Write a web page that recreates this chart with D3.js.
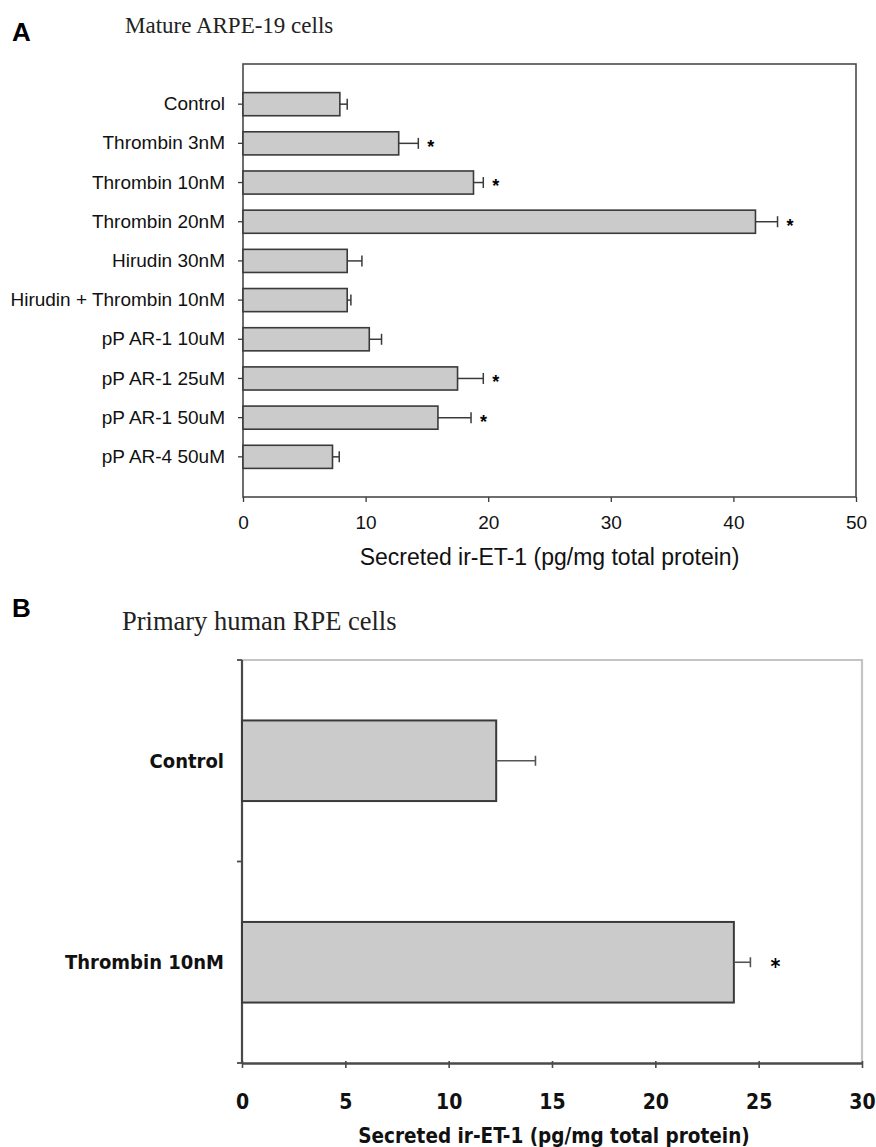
<!DOCTYPE html>
<html>
<head>
<meta charset="utf-8">
<script src="https://cdn.jsdelivr.net/npm/d3@7/dist/d3.min.js"></script>
<style>
  body { margin: 0; background: #fff; }
  svg { display: block; }
</style>
</head>
<body>
<div id="chart"></div>
<script>
// panel A - mature ARPE-19 cells
var catsA = ["Control", "Thrombin 3nM", "Thrombin 10nM", "Thrombin 20nM", "Hirudin 30nM",
  "Hirudin + Thrombin 10nM", "pP AR-1 10uM", "pP AR-1 25uM", "pP AR-1 50uM", "pP AR-4 50uM"];
var valsA = [7.9, 12.7, 18.8, 41.8, 8.5, 8.5, 10.3, 17.5, 15.9, 7.3];
var errA = [0.6, 1.6, 0.8, 1.8, 1.2, 0.3, 1.0, 2.1, 2.7, 0.55];
var sigA = [false, true, true, true, false, false, false, true, true, false];
var ticksA = [0, 10, 20, 30, 40, 50];

// panel B - primary human RPE cells
var catsB = ["Control", "Thrombin 10nM"];
var valsB = [12.3, 23.8];
var errB = [1.9, 0.8];
var sigB = [false, true];
var ticksB = [0, 5, 10, 15, 20, 25, 30];

var xTitle = "Secreted ir-ET-1 (pg/mg total protein)";

var width = 876, height = 1147;
var dark = "#3a3a3a";
var barFill = "#cbcbcb";

var svg = d3.select("#chart").append("svg")
    .attr("width", width)
    .attr("height", height);

svg.append("rect").attr("width", width).attr("height", height).attr("fill", "#fff");

var sansA = "'Liberation Sans', Arial, sans-serif";
var sansB = "'DejaVu Sans Condensed', 'DejaVu Sans', sans-serif";
var serif = "'Liberation Serif', 'Times New Roman', serif";

// ---------- panel A ----------
var xA = d3.scaleLinear().domain([0, 50]).range([243, 856]);
var yA = d3.scaleBand().domain(catsA).range([64, 497]).paddingInner(0.41).paddingOuter(0.73);

svg.append("text").attr("x", 12).attr("y", 41)
    .style("font-family", sansA).style("font-weight", "bold").style("font-size", "26px")
    .text("A");
svg.append("text").attr("x", 125).attr("y", 33)
    .style("font-family", serif).style("font-size", "23px").attr("fill", "#222")
    .text("Mature ARPE-19 cells");

var gA = svg.append("g");

gA.append("rect")
    .attr("x", xA(0)).attr("y", 64)
    .attr("width", xA(50) - xA(0)).attr("height", 497 - 64)
    .attr("fill", "none").attr("stroke", "#4a4a4a").attr("stroke-width", 1.6);

var axLeftA = gA.append("g")
    .attr("transform", "translate(" + xA(0) + ",0)")
    .call(d3.axisLeft(yA).tickSize(5).tickPadding(13));
axLeftA.select(".domain").remove();
axLeftA.selectAll("line").attr("stroke", dark).attr("stroke-width", 1.3);
axLeftA.selectAll("text").style("font-family", sansA).style("font-size", "19px").attr("fill", "#111");

var axBotA = gA.append("g")
    .attr("transform", "translate(0,497)")
    .call(d3.axisBottom(xA).tickValues(ticksA).tickSize(5).tickPadding(14));
axBotA.select(".domain").remove();
axBotA.selectAll("line").attr("stroke", dark).attr("stroke-width", 1.3);
axBotA.selectAll("text").style("font-family", sansA).style("font-size", "19px").attr("fill", "#111");

gA.append("text")
    .attr("x", (xA(0) + xA(50)) / 2).attr("y", 565)
    .attr("text-anchor", "middle")
    .style("font-family", sansA).style("font-size", "23px").attr("fill", "#111")
    .text(xTitle);

gA.selectAll("rect.bar").data(catsA).enter().append("rect")
    .attr("class", "bar")
    .attr("x", xA(0))
    .attr("y", function(d) { return yA(d); })
    .attr("width", function(d, i) { return xA(valsA[i]) - xA(0); })
    .attr("height", yA.bandwidth())
    .attr("fill", barFill).attr("stroke", dark).attr("stroke-width", 1.6);

var errGA = gA.selectAll("g.err").data(catsA).enter().append("g").attr("class", "err");
errGA.append("line")
    .attr("x1", function(d, i) { return xA(valsA[i]); })
    .attr("x2", function(d, i) { return xA(valsA[i] + errA[i]); })
    .attr("y1", function(d) { return yA(d) + yA.bandwidth() / 2; })
    .attr("y2", function(d) { return yA(d) + yA.bandwidth() / 2; })
    .attr("stroke", dark).attr("stroke-width", 1.5);
errGA.append("line")
    .attr("x1", function(d, i) { return xA(valsA[i] + errA[i]); })
    .attr("x2", function(d, i) { return xA(valsA[i] + errA[i]); })
    .attr("y1", function(d) { return yA(d) + yA.bandwidth() / 2 - 5.5; })
    .attr("y2", function(d) { return yA(d) + yA.bandwidth() / 2 + 5.5; })
    .attr("stroke", dark).attr("stroke-width", 1.5);

gA.selectAll("text.star").data(catsA.filter(function(d, i) { return sigA[i]; })).enter()
  .append("text").attr("class", "star")
    .attr("x", function(d) { var i = catsA.indexOf(d); return xA(valsA[i] + errA[i]) + 9; })
    .attr("y", function(d) { return yA(d) + yA.bandwidth() / 2; })
    .attr("dy", "0.55em")
    .style("font-family", sansA).style("font-weight", "bold").style("font-size", "18px")
    .text("*");

// ---------- panel B ----------
var xB = d3.scaleLinear().domain([0, 30]).range([242, 862]);
var yB = d3.scaleBand().domain(catsB).range([660, 1063]).paddingInner(0.6).paddingOuter(0.3);

svg.append("text").attr("x", 12).attr("y", 617)
    .style("font-family", sansA).style("font-weight", "bold").style("font-size", "26px")
    .text("B");
svg.append("text").attr("x", 122).attr("y", 630)
    .style("font-family", serif).style("font-size", "26.5px").attr("fill", "#222")
    .text("Primary human RPE cells");

var gB = svg.append("g");

// light top / right border of the plot area
gB.append("path")
    .attr("d", "M" + xB(0) + ",660H" + xB(30) + "V1063")
    .attr("fill", "none").attr("stroke", "#c4c4c4").attr("stroke-width", 2.2);

// left axis, ticks at category boundaries
var boundsB = d3.range(catsB.length + 1).map(function(i) { return 660 + i * (1063 - 660) / catsB.length; });
gB.append("line").attr("x1", xB(0)).attr("x2", xB(0)).attr("y1", 660).attr("y2", 1063)
    .attr("stroke", "#4a4a4a").attr("stroke-width", 2.2);
gB.selectAll("line.tl").data(boundsB).enter().append("line").attr("class", "tl")
    .attr("x1", xB(0) - 5).attr("x2", xB(0))
    .attr("y1", function(d) { return d; }).attr("y2", function(d) { return d; })
    .attr("stroke", "#4a4a4a").attr("stroke-width", 1.8);

gB.selectAll("text.cat").data(catsB).enter().append("text").attr("class", "cat")
    .attr("x", 224)
    .attr("y", function(d) { return yB(d) + yB.bandwidth() / 2; })
    .attr("dy", "0.36em")
    .attr("text-anchor", "end")
    .style("font-family", sansB).style("font-weight", "bold").style("font-size", "20px").attr("fill", "#111")
    .text(function(d) { return d; });

var axBotB = gB.append("g")
    .attr("transform", "translate(0,1063)")
    .call(d3.axisBottom(xB).tickValues(ticksB).tickSizeInner(5).tickSizeOuter(0).tickPadding(26));
axBotB.select(".domain").attr("stroke", "#4a4a4a").attr("stroke-width", 2.6);
axBotB.selectAll(".tick line").attr("y1", -2).attr("stroke", "#4a4a4a").attr("stroke-width", 1.6);
axBotB.selectAll("text").style("font-family", sansB).style("font-weight", "bold").style("font-size", "21px").attr("fill", "#111");

gB.append("text")
    .attr("x", 554).attr("y", 1143)
    .attr("text-anchor", "middle")
    .style("font-family", sansB).style("font-weight", "bold").style("font-size", "20.5px").attr("fill", "#111")
    .text(xTitle);

gB.selectAll("rect.bar").data(catsB).enter().append("rect")
    .attr("class", "bar")
    .attr("x", xB(0))
    .attr("y", function(d) { return yB(d); })
    .attr("width", function(d, i) { return xB(valsB[i]) - xB(0); })
    .attr("height", yB.bandwidth())
    .attr("fill", barFill).attr("stroke", dark).attr("stroke-width", 2);

var errGB = gB.selectAll("g.err").data(catsB).enter().append("g").attr("class", "err");
errGB.append("line")
    .attr("x1", function(d, i) { return xB(valsB[i]); })
    .attr("x2", function(d, i) { return xB(valsB[i] + errB[i]); })
    .attr("y1", function(d) { return yB(d) + yB.bandwidth() / 2; })
    .attr("y2", function(d) { return yB(d) + yB.bandwidth() / 2; })
    .attr("stroke", "#555").attr("stroke-width", 1.6);
errGB.append("line")
    .attr("x1", function(d, i) { return xB(valsB[i] + errB[i]); })
    .attr("x2", function(d, i) { return xB(valsB[i] + errB[i]); })
    .attr("y1", function(d) { return yB(d) + yB.bandwidth() / 2 - 5; })
    .attr("y2", function(d) { return yB(d) + yB.bandwidth() / 2 + 5; })
    .attr("stroke", "#555").attr("stroke-width", 1.6);

gB.selectAll("text.star").data(catsB.filter(function(d, i) { return sigB[i]; })).enter()
  .append("text").attr("class", "star")
    .attr("x", function(d) { var i = catsB.indexOf(d); return xB(valsB[i] + errB[i]) + 25; })
    .attr("y", function(d) { return yB(d) + yB.bandwidth() / 2; })
    .attr("dy", "0.55em")
    .attr("text-anchor", "middle")
    .style("font-family", sansB).style("font-weight", "bold").style("font-size", "21px")
    .text("*");
</script>
</body>
</html>
